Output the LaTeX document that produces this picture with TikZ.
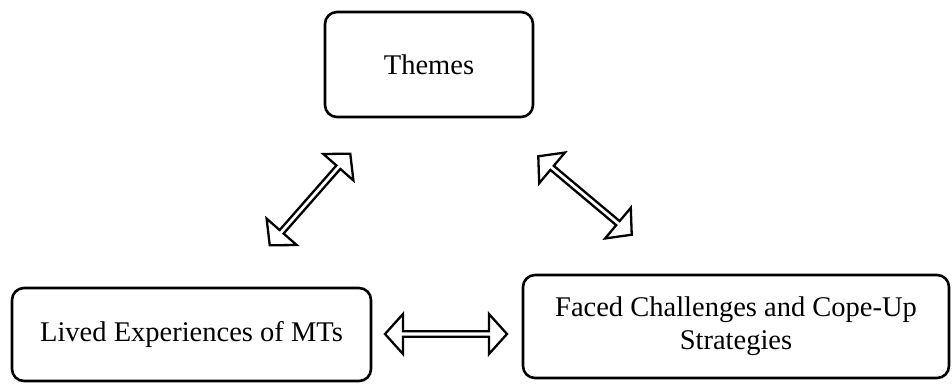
\documentclass[tikz,border=0pt]{standalone}
\usepackage{fontspec}
\setmainfont{Liberation Serif}
\usetikzlibrary{shapes.arrows, positioning}

\begin{document}
\begin{tikzpicture}[x=1pt, y=-1pt, font=\fontsize{28.5}{33}\selectfont]
\tikzstyle{block} = [rectangle, draw, line width=2.6pt, rounded corners=12pt, align=center, inner sep=0pt]
\tikzstyle{link} = [double arrow, draw, line width=2.3pt, minimum height=122pt, minimum width=40pt, double arrow head extend=7.5pt, double arrow tip angle=96, inner sep=0pt]

\useasboundingbox (0,0) rectangle (952,383);

\node [block, minimum width=208pt, minimum height=105pt] (themes) at (429,64.5) {Themes};
\node [block, minimum width=359pt, minimum height=93pt] (lived) at (191.5,334.5) {Lived Experiences of MTs};
\node [block, minimum width=426pt, minimum height=103pt] (faced) at (736,326.5) {Faced Challenges and Cope-Up\\Strategies};

\node [link, rotate=48.7] (lt) at (310,199.5) {};
\node [link, rotate=-40] (rt) at (585,195.5) {};
\node [link] (lf) at (446,334) {};
\end{tikzpicture}
\end{document}
